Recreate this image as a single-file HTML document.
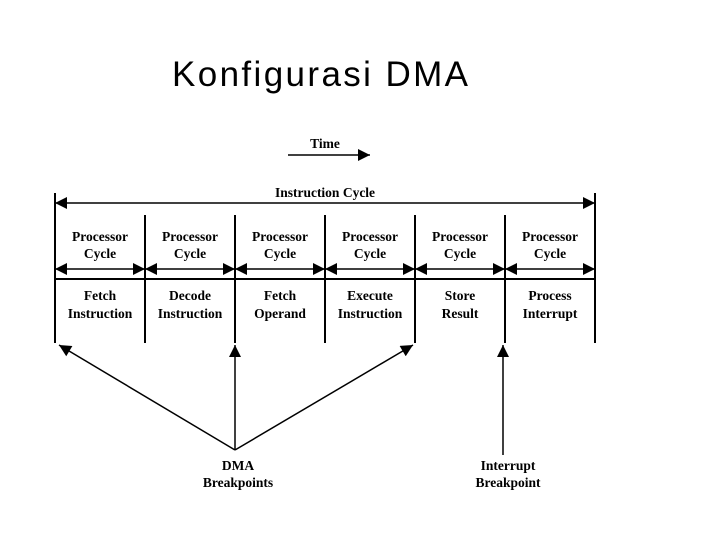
<!DOCTYPE html>
<html><head><style>body{margin:0;background:#fff}</style></head><body>
<svg width="720" height="540" xmlns="http://www.w3.org/2000/svg" font-family="Liberation Serif, serif" font-weight="bold" font-size="13.5">
<defs>
<marker id="b" viewBox="0 0 10 10" refX="10" refY="5" markerWidth="14" markerHeight="12" markerUnits="userSpaceOnUse" orient="auto-start-reverse"><path d="M0,0L10,5L0,10z" fill="#000"/></marker>
</defs>
<text x="172" y="86" font-family="Liberation Sans, sans-serif" font-weight="normal" font-size="35" textLength="296" lengthAdjust="spacing">Konfigurasi DMA</text>
<text x="325" y="148" text-anchor="middle">Time</text>
<line x1="288" y1="155" x2="370" y2="155" stroke="#000" stroke-width="1.5" marker-end="url(#b)"/>
<text x="325" y="197" text-anchor="middle">Instruction Cycle</text>
<line x1="55" y1="203" x2="595" y2="203" stroke="#000" stroke-width="1.5" marker-start="url(#b)" marker-end="url(#b)"/>
<g stroke="#000" stroke-width="2">
<line x1="55" y1="193" x2="55" y2="343"/><line x1="595" y1="193" x2="595" y2="343"/>
<line x1="145" y1="215" x2="145" y2="343"/><line x1="235" y1="215" x2="235" y2="343"/>
<line x1="325" y1="215" x2="325" y2="343"/><line x1="415" y1="215" x2="415" y2="343"/>
<line x1="505" y1="215" x2="505" y2="343"/>
<line x1="55" y1="279" x2="595" y2="279"/>
</g>
<g stroke="#000" stroke-width="1.5">
<line x1="55" y1="269" x2="145" y2="269" marker-start="url(#b)" marker-end="url(#b)"/>
<line x1="145" y1="269" x2="235" y2="269" marker-start="url(#b)" marker-end="url(#b)"/>
<line x1="235" y1="269" x2="325" y2="269" marker-start="url(#b)" marker-end="url(#b)"/>
<line x1="325" y1="269" x2="415" y2="269" marker-start="url(#b)" marker-end="url(#b)"/>
<line x1="415" y1="269" x2="505" y2="269" marker-start="url(#b)" marker-end="url(#b)"/>
<line x1="505" y1="269" x2="595" y2="269" marker-start="url(#b)" marker-end="url(#b)"/>
</g>
<g text-anchor="middle">
<text x="100" y="241">Processor</text><text x="100" y="258">Cycle</text>
<text x="190" y="241">Processor</text><text x="190" y="258">Cycle</text>
<text x="280" y="241">Processor</text><text x="280" y="258">Cycle</text>
<text x="370" y="241">Processor</text><text x="370" y="258">Cycle</text>
<text x="460" y="241">Processor</text><text x="460" y="258">Cycle</text>
<text x="550" y="241">Processor</text><text x="550" y="258">Cycle</text>
<text x="100" y="300">Fetch</text><text x="100" y="318">Instruction</text>
<text x="190" y="300">Decode</text><text x="190" y="318">Instruction</text>
<text x="280" y="300">Fetch</text><text x="280" y="318">Operand</text>
<text x="370" y="300">Execute</text><text x="370" y="318">Instruction</text>
<text x="460" y="300">Store</text><text x="460" y="318">Result</text>
<text x="550" y="300">Process</text><text x="550" y="318">Interrupt</text>
<text x="238" y="470">DMA</text><text x="238" y="487">Breakpoints</text>
<text x="508" y="470">Interrupt</text><text x="508" y="487">Breakpoint</text>
</g>
<g stroke="#000" stroke-width="1.5">
<line x1="235" y1="450" x2="59" y2="345" marker-end="url(#b)"/>
<line x1="235" y1="450" x2="235" y2="345" marker-end="url(#b)"/>
<line x1="235" y1="450" x2="413" y2="345" marker-end="url(#b)"/>
<line x1="503" y1="455" x2="503" y2="345" marker-end="url(#b)"/>
</g>
</svg>
</body></html>
